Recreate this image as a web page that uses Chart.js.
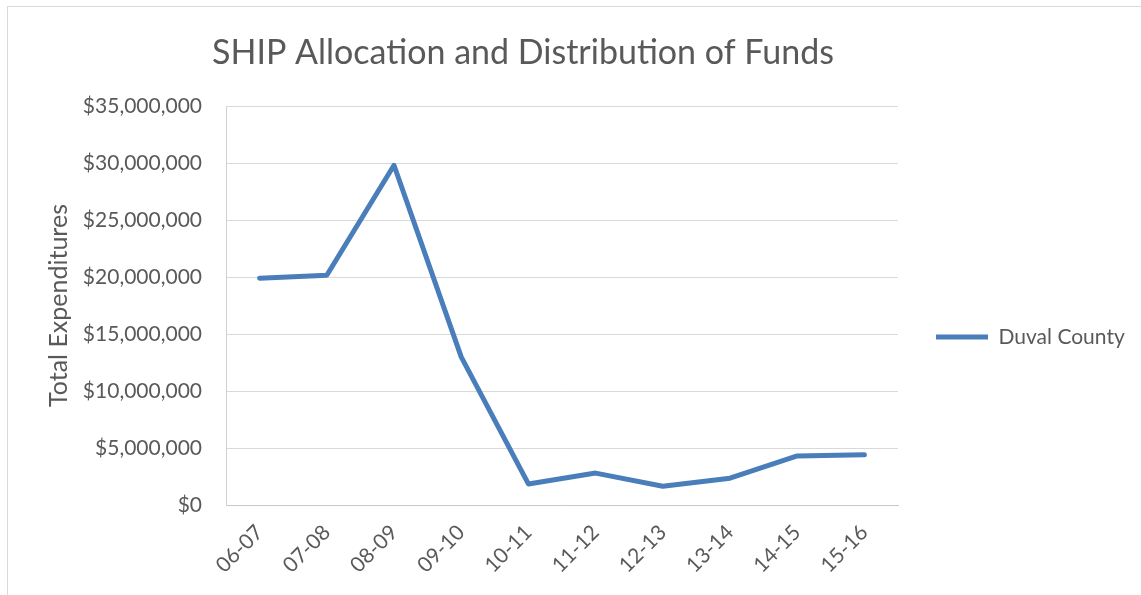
<!DOCTYPE html>
<html>
<head>
<meta charset="utf-8">
<script src="https://cdn.jsdelivr.net/npm/chart.js@4"></script>
<style>
  html, body { margin: 0; padding: 0; background: #ffffff; overflow: hidden; }
  #wrap { position: relative; width: 1141px; height: 595px; }
  #frame { position: absolute; left: 7px; top: 6px; width: 2000px; height: 2000px;
           border-top: 1px solid #d9d9d9; border-left: 1px solid #d9d9d9; box-sizing: border-box; }
  canvas { position: absolute; left: 0; top: 0; }
</style>
</head>
<body>
<div id="wrap">
  <div id="frame"></div>
  <canvas id="c" width="1141" height="595"></canvas>
</div>
<script>
// ---- data ----
const categories = ['06-07', '07-08', '08-09', '09-10', '10-11', '11-12', '12-13', '13-14', '14-15', '15-16'];
const duvalCounty = [19900000, 20150000, 29800000, 13000000, 1850000, 2800000, 1650000, 2350000, 4300000, 4400000];
const seriesName = 'Duval County';
const chartTitle = 'SHIP Allocation and Distribution of Funds';
const yAxisTitle = 'Total Expenditures';
const yMin = 0, yMax = 35000000, yStep = 5000000;

const TEXT = '#595959';
const FONT = 'Lato';

const titlePlugin = {
  id: 'customTitle',
  afterDraw(chart) {
    const ctx = chart.ctx;
    ctx.save();
    ctx.font = '34px ' + FONT;
    ctx.fillStyle = TEXT;
    ctx.textAlign = 'center';
    ctx.textBaseline = 'alphabetic';
    ctx.fillText(chartTitle, 523, 64);
    ctx.restore();
  }
};

const legendBoxPlugin = {
  id: 'legendBox',
  beforeInit(chart) {
    const lg = chart.legend;
    if (!lg) return;
    const orig = lg.fit;
    lg.fit = function () { orig.call(this); this.width = 243; };
  },
  afterLayout(chart) {
    const lg = chart.legend;
    if (!lg) return;
    lg.top = 79;
    lg.bottom = chart.height;
    lg.height = lg.bottom - lg.top;
  }
};

function draw() {
  new Chart(document.getElementById('c'), {
    type: 'line',
    data: {
      labels: categories,
      datasets: [{
        label: seriesName,
        data: duvalCounty,
        borderColor: '#4a7ebb',
        backgroundColor: '#4a7ebb',
        borderWidth: 5,
        borderCapStyle: 'round',
        borderJoinStyle: 'round',
        pointRadius: 0,
        pointHoverRadius: 0,
        tension: 0,
        fill: false
      }]
    },
    options: {
      responsive: false,
      animation: false,
      events: [],
      layout: { padding: { top: 106, left: 0, right: 0, bottom: 0 } },
      plugins: {
        title: { display: false },
        tooltip: { enabled: false },
        legend: {
          display: true,
          position: 'right',
          align: 'center',
          labels: {
            usePointStyle: true,
            pointStyle: 'line',
            pointStyleWidth: 52,
            padding: 38,
            color: TEXT,
            font: { family: FONT, size: 21 }
          }
        }
      },
      scales: {
        x: {
          offset: true,
          grid: { display: false, drawTicks: false },
          border: { display: true, color: '#c8c8c8', width: 1 },
          ticks: {
            minRotation: 45, maxRotation: 45, autoSkip: false,
            padding: 15,
            color: TEXT,
            font: { family: FONT, size: 21 }
          },
          afterFit(scale) { scale.height = 90; }
        },
        y: {
          min: yMin, max: yMax,
          grid: { color: '#d9d9d9', lineWidth: 1, drawTicks: false },
          border: { display: true, color: '#d0d0d0', width: 1 },
          ticks: {
            stepSize: yStep,
            padding: 24,
            color: TEXT,
            font: { family: FONT, size: 21 },
            callback: (v) => '$' + Number(v).toLocaleString('en-US')
          },
          title: {
            display: true,
            text: yAxisTitle,
            color: TEXT,
            font: { family: FONT, size: 25 },
            padding: { top: 44, bottom: 0 }
          },
          afterFit(scale) { scale.width = 226; }
        }
      }
    },
    plugins: [legendBoxPlugin, titlePlugin]
  });
}

if (document.fonts && document.fonts.load) {
  Promise.all([document.fonts.load('21px Lato'), document.fonts.load('34px Lato')]).then(draw, draw);
} else {
  draw();
}
</script>
</body>
</html>
